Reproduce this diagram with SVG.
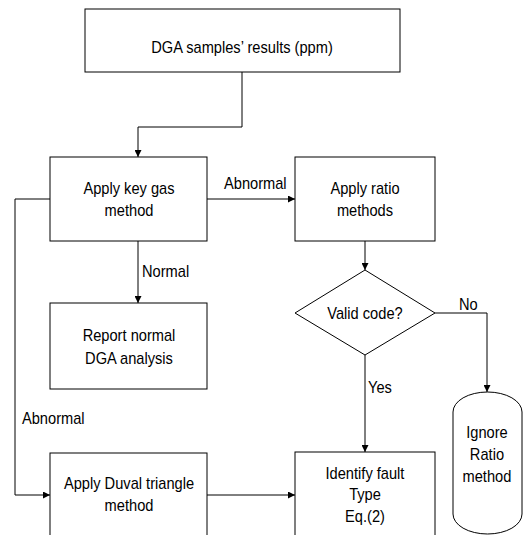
<svg xmlns="http://www.w3.org/2000/svg" width="524" height="535" viewBox="0 0 524 535">
<defs>
<marker id="arr" viewBox="0 0 10 10" refX="10" refY="5" markerWidth="7" markerHeight="7" markerUnits="userSpaceOnUse" orient="auto">
<path d="M0,0 L10,5 L0,10 z" fill="#000"/>
</marker>
<style>
.box{fill:#fff;stroke:#000;stroke-width:1}
.t{font-family:"Liberation Sans",Arial,sans-serif;font-size:16px;fill:#000;text-anchor:middle}
.l{font-family:"Liberation Sans",Arial,sans-serif;font-size:16px;fill:#000}
.c{fill:none;stroke:#000;stroke-width:1;marker-end:url(#arr)}
</style>
</defs>
<rect width="524" height="535" fill="#fff"/>
<g id="connectors">
<path class="c" d="M242,72 V127 H138 V157"/>
<path class="c" d="M207,199 H295"/>
<path class="c" d="M138,241 V303"/>
<path class="c" d="M365,241 V270"/>
<path class="c" d="M435,313 H487 V392"/>
<path class="c" d="M365,355 V452"/>
<path class="c" d="M50,199 H15 V495 H50"/>
<path class="c" d="M207,495 H295"/>
<g transform="scale(0.915,1)">
<text class="l" x="244.8" y="189">Abnormal</text>
<text class="l" x="155.2" y="277">Normal</text>
<text class="l" x="501.6" y="310">No</text>
<text class="l" x="402.2" y="393">Yes</text>
<text class="l" x="24" y="424">Abnormal</text>
</g>
</g>
<g id="n-dga">
<rect class="box" x="85" y="9" width="315" height="63"/>
<text class="t" transform="scale(0.915,1)" x="264.5" y="53">DGA samples’ results (ppm)</text>
</g>
<g id="n-keygas">
<rect class="box" x="50" y="157" width="157" height="84"/>
<g transform="scale(0.915,1)">
<text class="t" x="141" y="194">Apply key gas</text>
<text class="t" x="141" y="216">method</text>
</g>
</g>
<g id="n-ratio">
<rect class="box" x="295" y="157" width="140" height="84"/>
<g transform="scale(0.915,1)">
<text class="t" x="398.9" y="194">Apply ratio</text>
<text class="t" x="398.9" y="216">methods</text>
</g>
</g>
<g id="n-report">
<rect class="box" x="50" y="303" width="157" height="86"/>
<g transform="scale(0.915,1)">
<text class="t" x="141" y="341">Report normal</text>
<text class="t" x="141" y="364">DGA analysis</text>
</g>
</g>
<g id="n-valid">
<path class="box" d="M365,270 L435,313 L365,355 L295,313 Z"/>
<text class="t" transform="scale(0.915,1)" x="398.9" y="319">Valid code?</text>
</g>
<g id="n-ignore">
<rect class="box" x="453" y="392" width="69" height="142" rx="34.5" ry="20"/>
<g transform="scale(0.915,1)">
<text class="t" x="532.2" y="438">Ignore</text>
<text class="t" x="532.2" y="460">Ratio</text>
<text class="t" x="532.2" y="482">method</text>
</g>
</g>
<g id="n-duval">
<rect class="box" x="50" y="453" width="157" height="90"/>
<g transform="scale(0.915,1)">
<text class="t" x="141" y="489">Apply Duval triangle</text>
<text class="t" x="141" y="511">method</text>
</g>
</g>
<g id="n-identify">
<rect class="box" x="295" y="452" width="140" height="90"/>
<g transform="scale(0.915,1)">
<text class="t" x="398.9" y="479">Identify fault</text>
<text class="t" x="398.9" y="500">Type</text>
<text class="t" x="398.9" y="522">Eq.(2)</text>
</g>
</g>
</svg>
